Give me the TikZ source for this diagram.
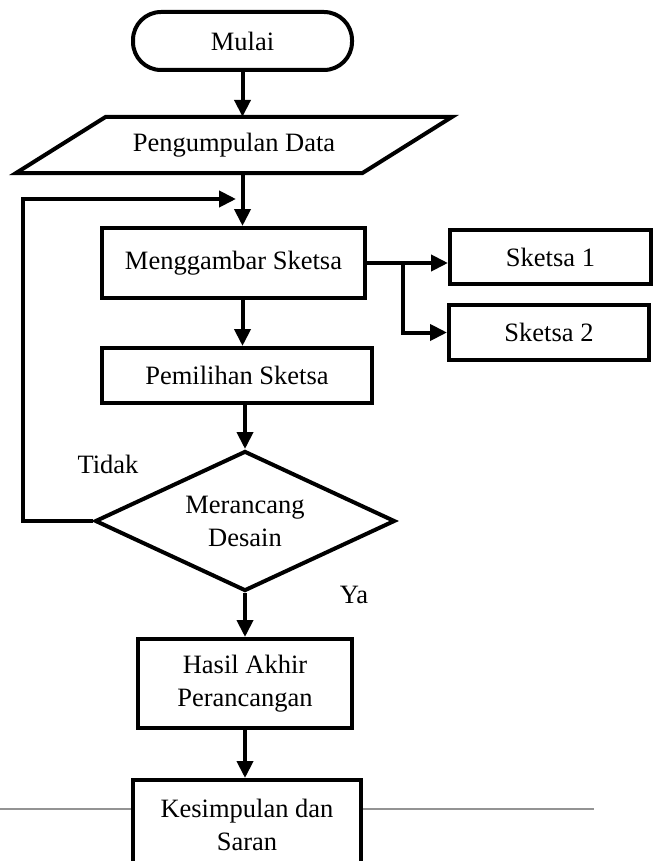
\documentclass[tikz,border=0pt]{standalone}
\usepackage{fontspec}
\setmainfont{Liberation Serif}
\usetikzlibrary{arrows.meta,shapes.geometric,calc}

\begin{document}
\begin{tikzpicture}[
  x=1pt,
  y=-1pt,
  label/.style={font=\fontsize{26.5}{33}\selectfont, align=center},
  box/.style={label, draw=black, line width=4pt, fill=white, inner sep=0pt},
  terminal/.style={box, rounded corners=28pt, minimum width=219pt, minimum height=58pt},
  decision/.style={box, diamond, aspect=2.14, minimum width=300pt, minimum height=140pt},
  flow/.style={line width=4pt, -{Triangle[length=17pt,width=16pt]}},
  footer/.style={gray!85, line width=1.5pt}
]
  \useasboundingbox (0,0) rectangle (654,861);

  \draw[footer] (0,809) -- (594,809);

  \node[terminal] (start) at (242.5,41) {Mulai};
  \node[label, minimum width=256pt, minimum height=56pt, inner sep=0pt] (data) at (234,145) {Pengumpulan Data};
  \draw[line width=4pt] ($(data.south west)+(-90,0)$) -- (data.north west) -- ($(data.north east)+(90,0)$) -- (data.south east) -- cycle;

  \node[box, minimum width=263pt, minimum height=70pt] (sketch) at (233.5,263) {Menggambar Sketsa};
  \node[box, minimum width=201pt, minimum height=54pt] (s1) at (550.5,257) {Sketsa 1};
  \node[box, minimum width=200pt, minimum height=55pt] (s2) at (549,332.5) {Sketsa 2};
  \node[box, minimum width=270pt, minimum height=55pt] (select) at (237,375.5) {Pemilihan Sketsa};
  \node[decision] (decide) at (245,521) {Merancang\\Desain};
  \node[box, minimum width=214pt, minimum height=89pt] (result) at (245,683.5) {Hasil Akhir\\Perancangan};
  \node[box, minimum width=228pt, minimum height=90pt] (finish) at (247,825) {Kesimpulan dan\\Saran};

  \node[label] (no) at (108,464) {Tidak};
  \node[label] (yes) at (354,595) {Ya};

  \coordinate (loop) at (236,199);
  \coordinate (split) at (403,263);

  \draw[flow] (start.south) -- (start.south |- data.north);
  \draw[flow] (start.south |- data.south) -- (start.south |- sketch.north);
  \draw[flow] (sketch.east) -- (s1.west |- sketch.east);
  \draw[flow] (split) |- (s2.west);
  \draw[flow] (start.south |- sketch.south) -- (start.south |- select.north);
  \draw[flow] (decide.north |- select.south) -- (decide.north);
  \draw[flow] (decide.west) -- ++(-70,0) |- (loop);
  \draw[flow] (decide.south) -- (result.north);
  \draw[flow] (result.south) -- (result.south |- finish.north);
\end{tikzpicture}
\end{document}
